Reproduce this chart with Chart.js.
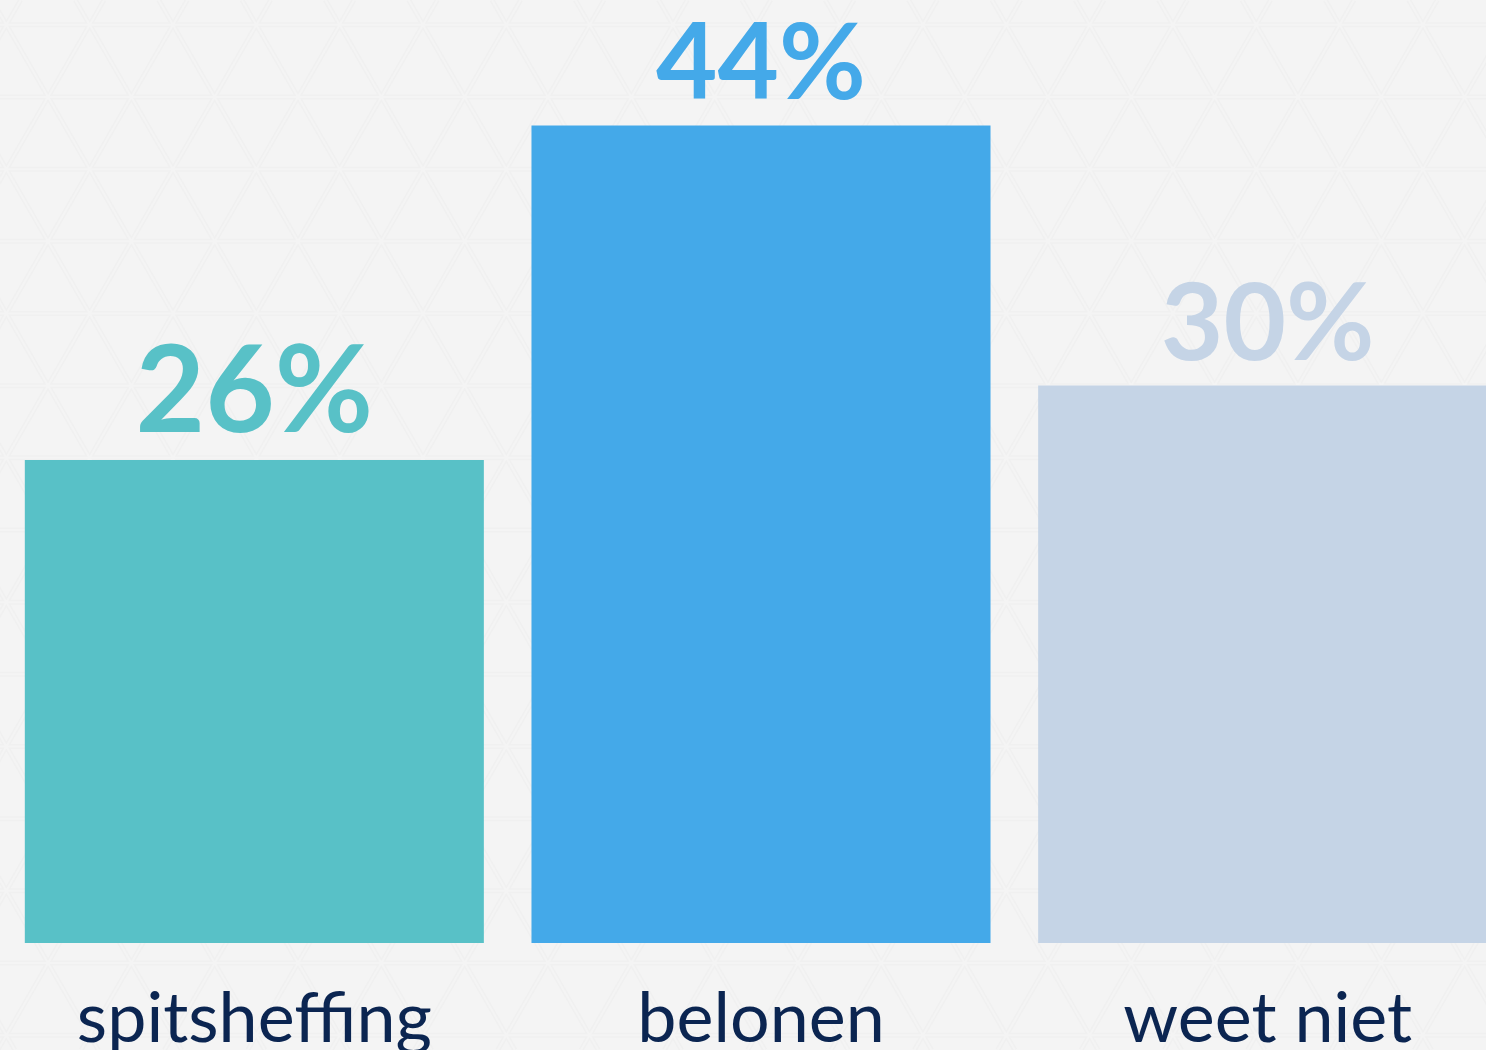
<!DOCTYPE html>
<html>
<head>
<meta charset="utf-8">
<script src="https://cdn.jsdelivr.net/npm/chart.js@4/dist/chart.umd.min.js"></script>
<style>
  html, body { margin: 0; padding: 0; background: #f4f4f4; overflow: hidden; }
  #wrap { position: absolute; left: 0; top: 0; width: 1521px; height: 1050px; }
</style>
</head>
<body>
<div id="wrap"><canvas id="c"></canvas></div>
<script>
// ---- data ----
const categories = ['spitsheffing', 'belonen', 'weet niet'];
const values = [26, 44, 30];
const valueLabels = ['26%', '44%', '30%'];

// ---- styles ----
const barColors = ['#58c1c7', '#44a9e9', '#c5d4e6'];
const labelColor = '#0b2551';
const valueFontSizes = [120, 106, 108];
const valueGaps = [28, 26, 26];

const bgPattern = {
  id: 'bgPattern',
  beforeDraw(chart) {
    const ctx = chart.ctx, W = chart.width, H = chart.height;
    ctx.save();
    ctx.fillStyle = '#f4f4f4';
    ctx.fillRect(0, 0, W, H);
    const side = 83.33, hgt = side * Math.sqrt(3) / 2;
    const y0 = 97, x0 = 48;
    const passes = [[5, '#f0f0f0'], [2, '#f4f4f4']];
    for (const [lw, col] of passes) {
      ctx.lineWidth = lw; ctx.strokeStyle = col;
      ctx.beginPath();
      for (let y = y0 - hgt * 2; y < H + hgt; y += hgt) {
        ctx.moveTo(0, y); ctx.lineTo(W, y);
      }
      const dx = H / Math.sqrt(3);
      for (let k = -30; k < 40; k++) {
        const xa = x0 + k * side - (y0) / Math.sqrt(3);
        ctx.moveTo(xa, 0); ctx.lineTo(xa + dx, H);
        const xb = x0 + k * side + (y0) / Math.sqrt(3);
        ctx.moveTo(xb, 0); ctx.lineTo(xb - dx, H);
      }
      ctx.stroke();
    }
    ctx.restore();
  }
};

const valueLabelPlugin = {
  id: 'valueLabels',
  afterDatasetsDraw(chart) {
    const ctx = chart.ctx;
    const meta = chart.getDatasetMeta(0);
    ctx.save();
    ctx.textAlign = 'center';
    ctx.textBaseline = 'alphabetic';
    meta.data.forEach((el, i) => {
      ctx.font = `bold ${valueFontSizes[i]}px Lato`;
      ctx.fillStyle = barColors[i];
      ctx.fillText(valueLabels[i], el.x, el.y - valueGaps[i]);
    });
    ctx.restore();
  }
};

new Chart(document.getElementById('c'), {
  type: 'bar',
  data: {
    labels: categories,
    datasets: [{
      data: values,
      backgroundColor: barColors,
      borderWidth: 0,
      categoryPercentage: 1,
      barPercentage: 0.906
    }]
  },
  options: {
    responsive: true,
    maintainAspectRatio: false,
    animation: false,
    layout: { padding: { top: 14, left: 1, right: 0, bottom: 0 } },
    plugins: { legend: { display: false }, tooltip: { enabled: false } },
    scales: {
      x: {
        grid: { display: false },
        border: { display: false },
        ticks: {
          color: labelColor,
          font: { family: 'Lato', size: 70, weight: 'normal' },
          padding: 26,
          maxRotation: 0
        },
        afterFit(axis) { axis.height = 107; }
      },
      y: {
        display: false,
        min: 0,
        max: 50
      }
    }
  },
  plugins: [bgPattern, valueLabelPlugin]
});
</script>
</body>
</html>
